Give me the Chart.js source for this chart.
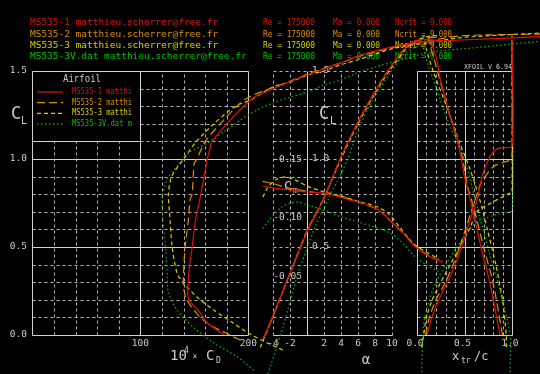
<!DOCTYPE html>
<html>
<head>
<meta charset="utf-8">
<script src="https://cdn.jsdelivr.net/npm/chart.js@4"></script>
<style>
  html, body { margin: 0; padding: 0; background: #000; }
  canvas { display: block; }
</style>
</head>
<body>
<canvas id="polarChart" width="540" height="374"></canvas>
<script>
// airfoils (legend + header)
const airfoils = ["MS535-1", "MS535-2", "MS535-3", "MS535-3V.dat"];
const author = "matthieu.scherrer@free.fr";
const reynolds = "175000";
const mach = "0.000";
const ncrit = "9.000";
const colors = ["#dc1010", "#dc9000", "#d2d200", "#00c000"];
const dashes = [[], [8, 4], [4, 3], [1.5, 2.5]];

// tick labels
const cdTicks = [100, 200];
const alphaTicks = [-4, -2, 2, 4, 6, 8, 10];
const clTicks = ["0.0", "0.5", "1.0", "1.5"];
const cmTicks = [-0.15, -0.10, -0.05];
const xtrTicks = ["0.0", "0.5", "1.0"];

// polar: [10^4 * CD, CL]
const polar1 = [[178, 0.0], [162, 0.068], [155.5, 0.125], [145, 0.2], [144, 0.256], [145.5, 0.386], [148, 0.5], [151, 0.65], [155, 0.767], [159, 0.898], [162, 1.0], [165, 1.07], [165.5, 1.09], [169, 1.12], [180, 1.2], [192.5, 1.28], [205, 1.35], [214, 1.375], [239, 1.44], [260, 1.49], [285, 1.545], [304, 1.59], [335, 1.64], [353, 1.66], [366, 1.667], [397, 1.676], [471, 1.695]];
const polar2 = [[193, -0.03], [183, 0.0], [168, 0.045], [155.5, 0.1], [143, 0.2], [140, 0.273], [140, 0.352], [141.5, 0.5], [144.5, 0.653], [146, 0.767], [148, 0.8], [149, 0.9], [150, 0.977], [152.5, 1.0], [160, 1.1], [174, 1.2], [189.5, 1.3], [200, 1.35], [214, 1.386], [239, 1.443], [260, 1.494], [285, 1.545], [304, 1.585], [335, 1.636], [366, 1.67], [397, 1.7], [471, 1.71]];
const polar3 = [[232, -0.085], [217.5, -0.045], [200, 0.011], [186, 0.068], [168, 0.142], [152.5, 0.216], [140, 0.295], [134, 0.352], [129.5, 0.5], [127, 0.7], [126, 0.8], [129, 0.9], [140, 1.0], [152, 1.1], [168, 1.2], [188, 1.3], [202, 1.335], [223, 1.41], [239, 1.4375], [255, 1.477], [270, 1.5], [285, 1.534], [301, 1.5625], [335, 1.63], [366, 1.66], [397, 1.69], [471, 1.716]];
const polar4 = [[205, -0.2], [190, -0.125], [168, -0.045], [149, 0.045], [134, 0.142], [126, 0.24], [125, 0.33], [123.5, 0.483], [121, 0.653], [120, 0.767], [121, 0.807], [126, 0.898], [140, 1.0], [146, 1.04], [162, 1.09], [177, 1.153], [192.5, 1.22], [208, 1.278], [223, 1.318], [239, 1.352], [254.6, 1.38], [270, 1.42], [285, 1.449], [301, 1.489], [316, 1.52], [341, 1.5625], [369, 1.608], [406, 1.63], [471, 1.67]];

// lift curve: [alpha, CL]
const lift1 = [[-5.2, -0.02], [-4.94, 0.0], [-2, 0.35], [0, 0.585], [1.9, 0.767], [3.9, 1.0], [5.9, 1.2], [8.2, 1.4], [9.5, 1.5], [10.4, 1.56], [11.3, 1.62], [12.2, 1.66], [13, 1.675], [14, 1.68], [15, 1.675], [16, 1.67]];
const lift2 = [[-5.1, -0.01], [-4.9, 0.0], [-2, 0.35], [0, 0.59], [2, 0.78], [4, 1.01], [6, 1.21], [8.2, 1.4], [9.5, 1.5], [10.5, 1.565], [11.5, 1.625], [12.5, 1.66], [13.5, 1.68], [14.5, 1.69], [15.5, 1.69]];
const lift3 = [[-5.5, -0.07], [-4.9, 0.0], [-2, 0.35], [0, 0.59], [2, 0.78], [4, 1.0], [6, 1.2], [8.2, 1.39], [9.5, 1.49], [10.6, 1.56], [11.7, 1.63], [12.7, 1.67], [13.7, 1.69], [14.7, 1.7], [15.5, 1.7]];
const lift4 = [[-4.6, -0.22], [-3.5, -0.06], [-2.8, 0.05], [-2, 0.19], [-1, 0.36], [0, 0.49], [1, 0.62], [2.5, 0.77], [3.5, 0.87], [4.7, 0.99], [5.9, 1.15], [7.1, 1.28], [8.2, 1.375], [9.8, 1.49], [11.3, 1.59], [12.5, 1.63], [14, 1.65]];

// moment: [alpha, Cm]
const moment1 = [[-5.2, -0.127], [-4, -0.1255], [-2, -0.1236], [0, -0.1219], [1.9, -0.121], [3.9, -0.1176], [5.1, -0.115], [6.2, -0.1134], [7.8, -0.109], [8.9, -0.104], [10.1, -0.0955], [11.3, -0.087], [12.5, -0.0767], [14.1, -0.068], [16, -0.0622]];
const moment2 = [[-5.2, -0.131], [-4, -0.129], [-2, -0.125], [0, -0.1225], [2, -0.1205], [4, -0.118], [6, -0.1135], [8, -0.108], [9, -0.103], [10, -0.096], [11.3, -0.087], [12.5, -0.078], [14, -0.069], [15.5, -0.0635]];
const moment3 = [[-5.2, -0.1176], [-4.5, -0.127], [-3.5, -0.133], [-2.5, -0.1347], [-1, -0.131], [0, -0.127], [2, -0.122], [4, -0.1185], [6, -0.114], [8, -0.11], [9.5, -0.104], [11, -0.091], [12.5, -0.078], [14, -0.0708], [15.5, -0.065]];
const moment4 = [[-5.2, -0.091], [-4, -0.102], [-3, -0.109], [-2, -0.1125], [-1, -0.1134], [0, -0.111], [2, -0.1066], [4, -0.1006], [6, -0.0963], [8, -0.092], [10, -0.086], [11.5, -0.0767], [12.5, -0.068], [14, -0.06], [15.5, -0.054]];

// transition: [xtr/c, CL], top and bottom surface
const xtrTop1 = [[0.874, 0.0], [0.768, 0.295], [0.68, 0.483], [0.61, 0.653], [0.56, 0.77], [0.5, 0.9], [0.47, 0.99], [0.42, 1.125], [0.347, 1.24], [0.295, 1.35], [0.24, 1.466], [0.21, 1.5625], [0.17, 1.63], [0.14, 1.68]];
const xtrBot1 = [[0.105, 0.0], [0.158, 0.102], [0.242, 0.216], [0.347, 0.33], [0.432, 0.443], [0.505, 0.557], [0.558, 0.653], [0.632, 0.767], [0.684, 0.898], [0.737, 0.977], [0.8, 1.04], [0.874, 1.063], [1.0, 1.074], [1.0, 1.68]];
const xtrTop2 = [[0.9, 0.0], [0.8, 0.3], [0.7, 0.5], [0.6, 0.72], [0.53, 0.85], [0.48, 1.0], [0.4, 1.15], [0.33, 1.28], [0.25, 1.43], [0.2, 1.53], [0.15, 1.62], [0.12, 1.69]];
const xtrBot2 = [[0.09, 0.0], [0.13, 0.1], [0.2, 0.2], [0.3, 0.3], [0.38, 0.4], [0.45, 0.5], [0.51, 0.6], [0.57, 0.7], [0.63, 0.8], [0.67, 0.86], [0.8, 0.955], [0.98, 0.994], [1.0, 1.0], [1.0, 1.69]];
const xtrTop3 = [[0.94, -0.07], [0.94, 0.0], [0.9, 0.2], [0.83, 0.4], [0.74, 0.6], [0.66, 0.77], [0.56, 0.94], [0.45, 1.09], [0.31, 1.3], [0.17, 1.5], [0.1, 1.62], [0.07, 1.7]];
const xtrBot3 = [[0.05, -0.07], [0.07, 0.0], [0.1, 0.1], [0.16, 0.2], [0.25, 0.3], [0.35, 0.4], [0.45, 0.5], [0.55, 0.6], [0.63, 0.7], [0.7, 0.727], [0.98, 0.807], [1.0, 0.81], [1.0, 1.7]];
const xtrTop4 = [[0.98, -0.21], [0.98, 0.0], [0.87, 0.26], [0.76, 0.47], [0.66, 0.67], [0.53, 0.94], [0.45, 1.07], [0.35, 1.18], [0.25, 1.33], [0.14, 1.5], [0.09, 1.58], [0.06, 1.65]];
const xtrBot4 = [[0.05, -0.21], [0.06, 0.0], [0.08, 0.1], [0.13, 0.2], [0.2, 0.3], [0.3, 0.4], [0.42, 0.5], [0.55, 0.6], [0.65, 0.65], [0.87, 0.69], [1.0, 0.71], [1.0, 1.65]];

const curves = [
  [polar1, lift1, moment1, xtrTop1, xtrBot1],
  [polar2, lift2, moment2, xtrTop2, xtrBot2],
  [polar3, lift3, moment3, xtrTop3, xtrBot3],
  [polar4, lift4, moment4, xtrTop4, xtrBot4],
];
const axesFor = [["xCd", "yCl"], ["xA", "yCl"], ["xA", "yCm"], ["xT", "yCl"], ["xT", "yCl"]];

const datasets = [];
curves.forEach((set, i) => {
  set.forEach((pts, k) => {
    datasets.push({
      label: airfoils[i],
      data: pts.map((p) => ({ x: p[0], y: p[1] })),
      showLine: true,
      borderColor: colors[i],
      borderWidth: 1.2,
      borderDash: dashes[i],
      pointRadius: 0,
      tension: 0.25,
      clip: false,
      xAxisID: axesFor[k][0],
      yAxisID: axesFor[k][1],
    });
  });
});

const GRID = "#b4b4b4";
const SOLID = "#d2d2d2";
const LABEL = "#cccccc";
const MONO = "'DejaVu Sans Mono', monospace";

// frames, grids and text of the three XFOIL panels
const xfoilFrame = {
  id: "xfoilFrame",
  beforeDatasetsDraw(chart) {
    const { ctx } = chart;
    const { xCd, xA, xT, yCl, yCm } = chart.scales;

    const seg = (x1, y1, x2, y2, dashed) => {
      ctx.save();
      ctx.strokeStyle = dashed ? GRID : SOLID;
      ctx.lineWidth = 1;
      ctx.setLineDash(dashed ? [3, 3] : []);
      ctx.beginPath();
      ctx.moveTo(Math.round(x1) + 0.5, Math.round(y1) + 0.5);
      ctx.lineTo(Math.round(x2) + 0.5, Math.round(y2) + 0.5);
      ctx.stroke();
      ctx.restore();
    };
    const hl = (xs, a, b, cl, dashed) =>
      seg(xs.getPixelForValue(a), yCl.getPixelForValue(cl), xs.getPixelForValue(b), yCl.getPixelForValue(cl), dashed);
    const vl = (xs, v, c0, c1, dashed) =>
      seg(xs.getPixelForValue(v), yCl.getPixelForValue(c0), xs.getPixelForValue(v), yCl.getPixelForValue(c1), dashed);
    const txt = (s, x, y, color, size, align, maxW) => {
      ctx.save();
      ctx.fillStyle = color;
      ctx.font = size + "px " + MONO;
      ctx.textAlign = align || "left";
      ctx.textBaseline = "middle";
      if (maxW) ctx.fillText(s, x, y, maxW);
      else ctx.fillText(s, x, y);
      ctx.restore();
    };

    // left panel: CL vs 10^4 CD
    for (let c = 1; c <= 14; c++) {
      const cl = c / 10;
      if (c % 5 === 0) continue;
      if (c === 11) { hl(xCd, 0, 100, cl, false); hl(xCd, 100, 200, cl, true); continue; }
      if (c > 11) hl(xCd, 100, 200, cl, true);
      else hl(xCd, 0, 200, cl, true);
    }
    [0, 0.5, 1.0, 1.5].forEach((cl) => hl(xCd, 0, 200, cl, false));
    [20, 40, 60, 80].forEach((cd) => vl(xCd, cd, 0, 1.1, true));
    [120, 140, 160, 180].forEach((cd) => vl(xCd, cd, 0, 1.5, true));
    [0, 100, 200].forEach((cd) => vl(xCd, cd, 0, 1.5, false));

    // middle panel: CL, Cm vs alpha
    for (let c = 1; c <= 15; c++) hl(xA, -4, 10, c / 10, true);
    hl(xA, -4, 10, 0, false);
    alphaTicks.forEach((a) => vl(xA, a, 0, 1.5, true));
    vl(xA, 0, 0, 1.5, false);

    // right panel: CL vs xtr/c
    for (let c = 1; c <= 14; c++) if (c % 5) hl(xT, 0, 1, c / 10, true);
    for (let t = 1; t <= 9; t++) if (t !== 5) vl(xT, t / 10, 0, 1.5, true);
    [0, 0.5, 1.0, 1.5].forEach((cl) => hl(xT, 0, 1, cl, false));
    [0, 0.5, 1.0].forEach((t) => vl(xT, t, 0, 1.5, false));

    // header
    airfoils.forEach((name, i) => {
      const y = 23 + i * 11.2;
      const s = name + " " + author;
      txt(s, 30, y, colors[i], 9.5, "left", s.length * 5.7);
      txt("Re = " + reynolds, 263, y, colors[i], 9.5, "left", 52);
      txt("Ma = " + mach, 333, y, colors[i], 9.5, "left", 47);
      txt("Ncrit = " + ncrit, 395, y, colors[i], 9.5, "left", 57);
    });
    txt("XFOIL V 6.94", 488, 67, LABEL, 7, "center", 48);

    // legend
    txt("Airfoil", 82, 79, LABEL, 10, "center", 38);
    airfoils.forEach((name, i) => {
      const y = 92 + i * 10.7;
      ctx.save();
      ctx.strokeStyle = colors[i];
      ctx.lineWidth = 1.2;
      ctx.setLineDash(dashes[i]);
      ctx.beginPath();
      ctx.moveTo(37, y);
      ctx.lineTo(63, y);
      ctx.stroke();
      ctx.restore();
      const lbl = (name + " " + author).slice(0, 14);
      txt(lbl, 72, y, colors[i], 8, "left", 60);
    });

    // CL tick labels
    clTicks.forEach((s) => txt(s, 27, yCl.getPixelForValue(+s), LABEL, 9.5, "right"));
    clTicks.slice(1).forEach((s) => txt(s, 312, yCl.getPixelForValue(+s), LABEL, 9.5, "left"));
    cmTicks.forEach((v) => txt(v.toFixed(2), 302, yCm.getPixelForValue(v), LABEL, 9.5, "right"));
    txt("C", 16, 115, LABEL, 17, "center");
    txt("L", 21, 121, LABEL, 10, "left");
    txt("C", 324, 115, LABEL, 17, "center");
    txt("L", 330, 121, LABEL, 10, "left");
    txt("C", 288, 187, LABEL, 13, "center");
    txt("m", 293, 191, LABEL, 8, "left");

    // bottom tick labels and axis titles
    const yb = 344;
    cdTicks.forEach((v) => txt(String(v), xCd.getPixelForValue(v), yb, LABEL, 9.5, "center"));
    alphaTicks.forEach((v) => txt(String(v), xA.getPixelForValue(v), yb, LABEL, 9.5, "center"));
    xtrTicks.forEach((s) => txt(s, xT.getPixelForValue(+s) - 2, yb, LABEL, 9.5, "center"));
    txt("10", 170, 356, LABEL, 14, "left");
    txt("4", 184, 351, LABEL, 8, "left");
    txt("\u00d7", 195, 357, LABEL, 8, "center");
    txt("C", 206, 356, LABEL, 14, "left");
    txt("D", 216, 361, LABEL, 8, "left");
    txt("\u03b1", 366, 360, LABEL, 14, "center");
    txt("x", 452, 357, LABEL, 12, "left");
    txt("tr", 461, 361, LABEL, 8, "left");
    txt("/c", 474, 357, LABEL, 12, "left");
  },
};

const ctx = document.getElementById("polarChart").getContext("2d");
new Chart(ctx, {
  type: "scatter",
  data: { datasets },
  options: {
    responsive: false,
    animation: false,
    layout: { padding: 0 },
    plugins: { legend: { display: false }, tooltip: { enabled: false } },
    scales: {
      // pixel mapping chosen so that the panels sit where XFOIL puts them
      xCd: { type: "linear", display: false, min: -32.3 / 1.08, max: (540 - 32.3) / 1.08 },
      xA: { type: "linear", display: false, min: -4 - 273 / 8.5, max: 10 + 148 / 8.5 },
      xT: { type: "linear", display: false, min: -417 / 95, max: 1 + 28 / 95 },
      yCl: { type: "linear", display: false, min: -39 / 176, max: 335 / 176 },
      yCm: { type: "linear", display: false, reverse: true, min: -335 / 1173, max: 39 / 1173 },
    },
  },
  plugins: [xfoilFrame],
});
</script>
</body>
</html>
